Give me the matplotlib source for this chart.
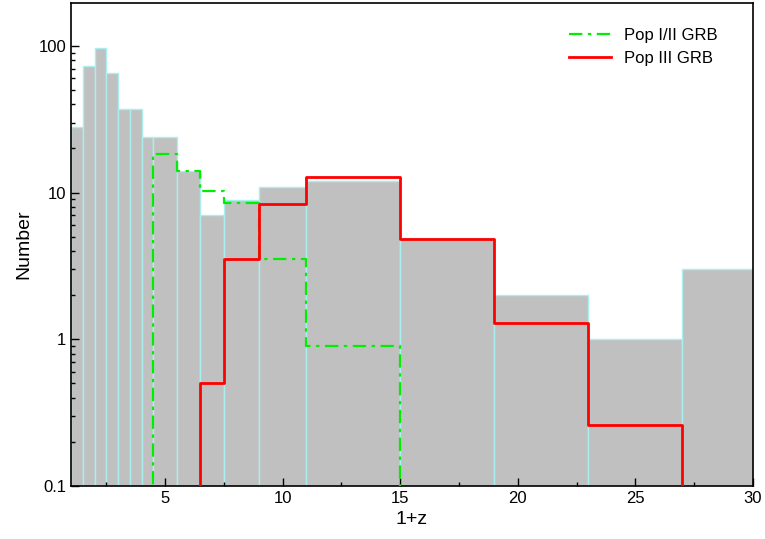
import matplotlib
matplotlib.use("Agg")
import matplotlib.pyplot as plt
from matplotlib.ticker import FixedLocator, FixedFormatter, LogLocator, NullFormatter, MultipleLocator
import numpy as np

plt.rcParams['font.family'] = ['Liberation Sans', 'DejaVu Sans']

edges = [1, 1.5, 2, 2.5, 3, 3.5, 4, 4.5, 5.5, 6.5, 7.5, 9, 11, 15, 19, 23, 27, 31]
all_counts = [28, 73, 97, 65, 37, 37, 24, 24, 14, 7, 8.9, 11, 12, 4.9, 2, 1, 3]

pop12_edges = [4.5, 5.5, 6.5, 7.5, 9, 11, 15]
pop12_counts = [18.3, 14, 10.3, 8.5, 3.5, 0.9]

pop3_edges = [6.5, 7.5, 9, 11, 15, 19, 23, 27]
pop3_counts = [0.5, 3.5, 8.3, 12.8, 4.8, 1.3, 0.26]

fig = plt.figure(figsize=(7.65, 5.39), dpi=100)
ax = fig.add_axes([71/765, 1-486/539, (753-71)/765, (486-3)/539])

lefts = np.array(edges[:-1]); widths = np.diff(edges)
ax.bar(lefts, all_counts, width=widths, align='edge', color='#c0c0c0',
       edgecolor='#a8f0f0', linewidth=1.0, zorder=1)

def step(e, c):
    xs = [e[0]]; ys = [1e-3]
    for i, v in enumerate(c):
        xs += [e[i], e[i+1]]; ys += [v, v]
    xs.append(e[-1]); ys.append(1e-3)
    return xs, ys

x1, y1 = step(pop12_edges, pop12_counts)
ax.plot(x1, y1, color='#00ee00', lw=1.6, ls=(0, (6, 2.5, 1.5, 2.5)), label='Pop I/II GRB', zorder=3)
x2, y2 = step(pop3_edges, pop3_counts)
ax.plot(x2, y2, color='#ff0000', lw=2.0, label='Pop III GRB', zorder=3)

ax.set_yscale('log')
ax.set_xlim(1, 30)
ax.set_ylim(0.1, 196)
ax.yaxis.set_major_locator(FixedLocator([0.1, 1, 10, 100]))
ax.yaxis.set_major_formatter(FixedFormatter(['0.1', '1', '10', '100']))
ax.yaxis.set_minor_locator(LogLocator(subs=np.arange(2, 10)))
ax.yaxis.set_minor_formatter(NullFormatter())
ax.xaxis.set_major_locator(FixedLocator([5, 10, 15, 20, 25, 30]))
ax.xaxis.set_minor_locator(MultipleLocator(2.5))
ax.tick_params(which='both', direction='in', labelsize=12)
ax.tick_params(which='major', length=6, width=1)
ax.tick_params(which='minor', length=3, width=1)
for s in ax.spines.values():
    s.set_linewidth(1.2)
ax.set_xlabel('1+z', fontsize=14)
ax.set_ylabel('Number', fontsize=14)
ax.legend(loc='upper right', frameon=False, fontsize=12, handlelength=2.5,
          bbox_to_anchor=(0.97, 0.98))
fig.savefig('out.png', dpi=100)
